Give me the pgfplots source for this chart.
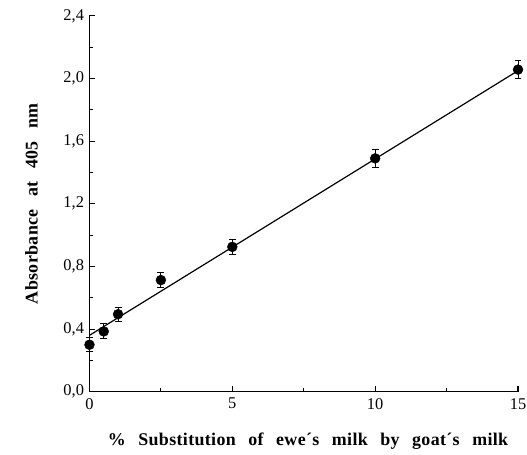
\documentclass[border=0pt]{standalone}
\usepackage{fontspec}
\setmainfont{Liberation Serif}
\newfontfamily\labfont[LetterSpace=2.0,WordSpace=2.6]{Liberation Serif}
\usepackage{pgfplots}
\pgfplotsset{compat=1.18}
\begin{document}
\begin{tikzpicture}
\begin{axis}[
  scale only axis,
  width=431pt, height=378pt,
  xmin=0, xmax=15, ymin=0, ymax=2.4,
  axis lines*=left,
  tick align=inside,
  xtick={0,5,10,15},
  minor xtick={2.5,7.5,12.5},
  ytick={0,0.4,0.8,1.2,1.6,2.0,2.4},
  minor ytick={0.2,0.6,1.0,1.4,1.8,2.2},
  /pgf/number format/assume math mode=true,
  tick label style={font=\fontsize{16.5}{16.5}\selectfont},
  xticklabel style={yshift=-3pt},
  yticklabel style={xshift=-2pt, /pgf/number format/.cd, fixed, fixed zerofill, precision=1, use comma},
  major tick length=6pt, minor tick length=4pt,
  axis line style={line width=1.3pt},
  tick style={line width=1.1pt, black},
  xlabel={\% Substitution of ewe´s milk by goat´s milk},
  ylabel={Absorbance at 405 nm},
  label style={font=\fontsize{18}{18}\labfont\bfseries},
  xlabel style={at={(axis description cs:0.51,-0.143)}, anchor=base},
  ylabel style={at={(axis description cs:-0.135,0.5)}, anchor=center, rotate=0},
  clip=false,
]
\addplot[black, line width=1.2pt] coordinates {(0,0.36) (15,2.05)};
\addplot[only marks, mark=*, mark size=5pt, black,
  error bars/.cd, y dir=both, y explicit,
  error mark options={rotate=90, mark size=3.5pt, line width=1pt},
  error bar style={line width=1pt}]
  coordinates {
  (0,0.30) +- (0,0.045)
  (0.5,0.385) +- (0,0.048)
  (1,0.495) +- (0,0.045)
  (2.5,0.713) +- (0,0.05)
  (5,0.925) +- (0,0.05)
  (10,1.49) +- (0,0.055)
  (15,2.057) +- (0,0.056)
};
\coordinate (bl) at (rel axis cs:-0.2088,-0.1667);
\coordinate (tr) at (rel axis cs:1.021,1.0423);
\end{axis}
\pgfresetboundingbox
\path (bl) rectangle (tr);
\end{tikzpicture}
\end{document}
